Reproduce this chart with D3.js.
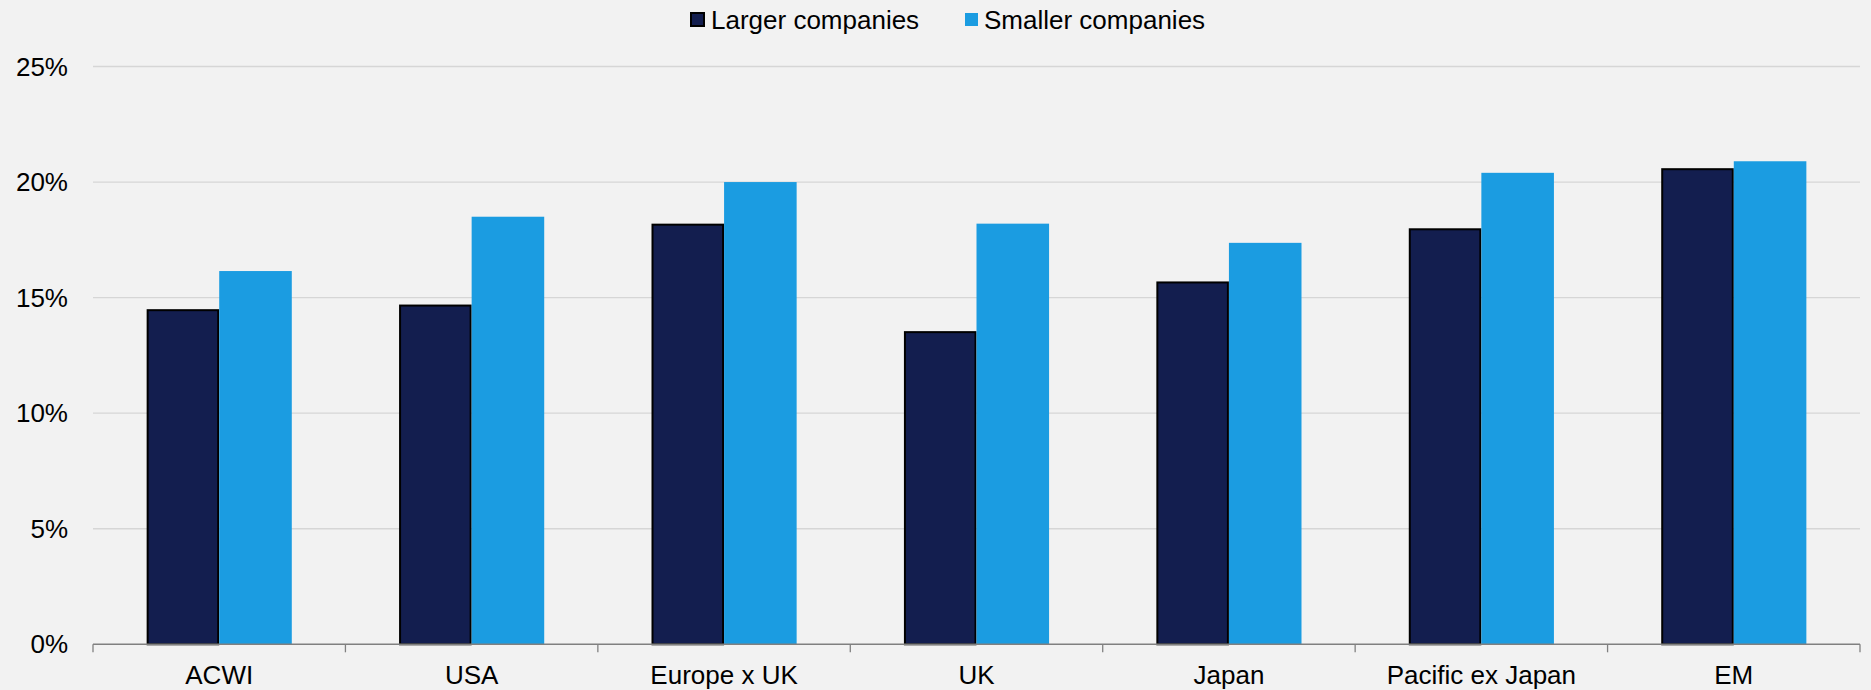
<!DOCTYPE html>
<html>
<head>
<meta charset="utf-8">
<script src="https://cdn.jsdelivr.net/npm/d3@7"></script>
<style>
  html, body { margin: 0; padding: 0; background: #F2F2F2; }
  svg { display: block; font-family: "Liberation Sans", Arial, sans-serif; }
</style>
</head>
<body>
<svg id="chart" width="1871" height="690"></svg>
<script>
const categories = ["ACWI", "USA", "Europe x UK", "UK", "Japan", "Pacific ex Japan", "EM"];
const seriesNames = ["Larger companies", "Smaller companies"];
const largerValues = [14.5, 14.7, 18.2, 13.55, 15.7, 18.0, 20.6];
const smallerValues = [16.15, 18.5, 20.0, 18.2, 17.37, 20.4, 20.9];
const yTicks = [0, 5, 10, 15, 20, 25];
const colors = ["#131E4F", "#1B9CE1"];

(function () {
const svg = d3.select("#chart");
const W = 1871, H = 690;
svg.append("rect").attr("width", W).attr("height", H).attr("fill", "#F2F2F2");

const mLeft = 93, mRight = 1860, mTop = 66.5, mBottom = 644.3;
const fs = 26;

const x0 = d3.scaleBand().domain(categories).range([mLeft, mRight]).paddingInner(0).paddingOuter(0);
const groupFrac = 0.575;
const x1 = d3.scaleBand().domain(seriesNames)
  .range([0, x0.bandwidth() * groupFrac]);
const groupOffset = x0.bandwidth() * (1 - groupFrac) / 2;
const y = d3.scaleLinear().domain([0, 25]).range([mBottom, mTop]);

// gridlines
svg.append("g").selectAll("line").data(yTicks.filter(d => d > 0)).join("line")
  .attr("x1", mLeft).attr("x2", mRight)
  .attr("y1", d => y(d)).attr("y2", d => y(d))
  .attr("stroke", "#D6D6D6").attr("stroke-width", 1.3);

// y labels
svg.append("g").selectAll("text").data(yTicks).join("text")
  .attr("x", 68).attr("y", d => y(d))
  .attr("text-anchor", "end").attr("dominant-baseline", "central")
  .attr("font-size", fs).attr("fill", "#000")
  .text(d => d + "%");

// bars
const data = categories.map((c, i) => ({ cat: c, vals: [largerValues[i], smallerValues[i]] }));
const groups = svg.append("g").selectAll("g").data(data).join("g")
  .attr("transform", d => `translate(${x0(d.cat) + groupOffset},0)`);
groups.selectAll("rect").data(d => d.vals.map((v, j) => ({ name: seriesNames[j], v, j }))).join("rect")
  .attr("x", d => x1(d.name) + (d.j === 0 ? 1 : 0))
  .attr("y", d => y(d.v) + (d.j === 0 ? 1 : 0))
  .attr("width", d => x1.bandwidth() - (d.j === 0 ? 2 : 0))
  .attr("height", d => mBottom - y(d.v) - (d.j === 0 ? 1 : 0))
  .attr("fill", d => colors[d.j])
  .attr("stroke", d => d.j === 0 ? "#000" : "none")
  .attr("stroke-width", 2);

// x axis
svg.append("line").attr("x1", mLeft).attr("x2", mRight).attr("y1", mBottom).attr("y2", mBottom)
  .attr("stroke", "#808080").attr("stroke-width", 1.5);
const boundaries = categories.map(c => x0(c)).concat([mRight]);
svg.append("g").selectAll("line").data(boundaries).join("line")
  .attr("x1", d => d).attr("x2", d => d).attr("y1", mBottom).attr("y2", mBottom + 8)
  .attr("stroke", "#808080").attr("stroke-width", 1.3);
svg.append("g").selectAll("text").data(categories).join("text")
  .attr("x", d => x0(d) + x0.bandwidth() / 2).attr("y", 684)
  .attr("text-anchor", "middle").attr("font-size", fs).attr("fill", "#000")
  .text(d => d);

// legend
const legend = svg.append("g");
const legItems = [
  { name: seriesNames[0], sx: 690, tx: 711, color: colors[0], stroke: "#000" },
  { name: seriesNames[1], sx: 964, tx: 984, color: colors[1], stroke: "none" }
];
legItems.forEach(it => {
  legend.append("rect").attr("x", it.sx + 1).attr("y", 13).attr("width", 13).attr("height", 13)
    .attr("fill", it.color).attr("stroke", it.stroke).attr("stroke-width", 2);
  legend.append("text").attr("x", it.tx).attr("y", 28.5).attr("font-size", fs).attr("fill", "#000")
    .text(it.name);
});
})();
</script>
</body>
</html>
